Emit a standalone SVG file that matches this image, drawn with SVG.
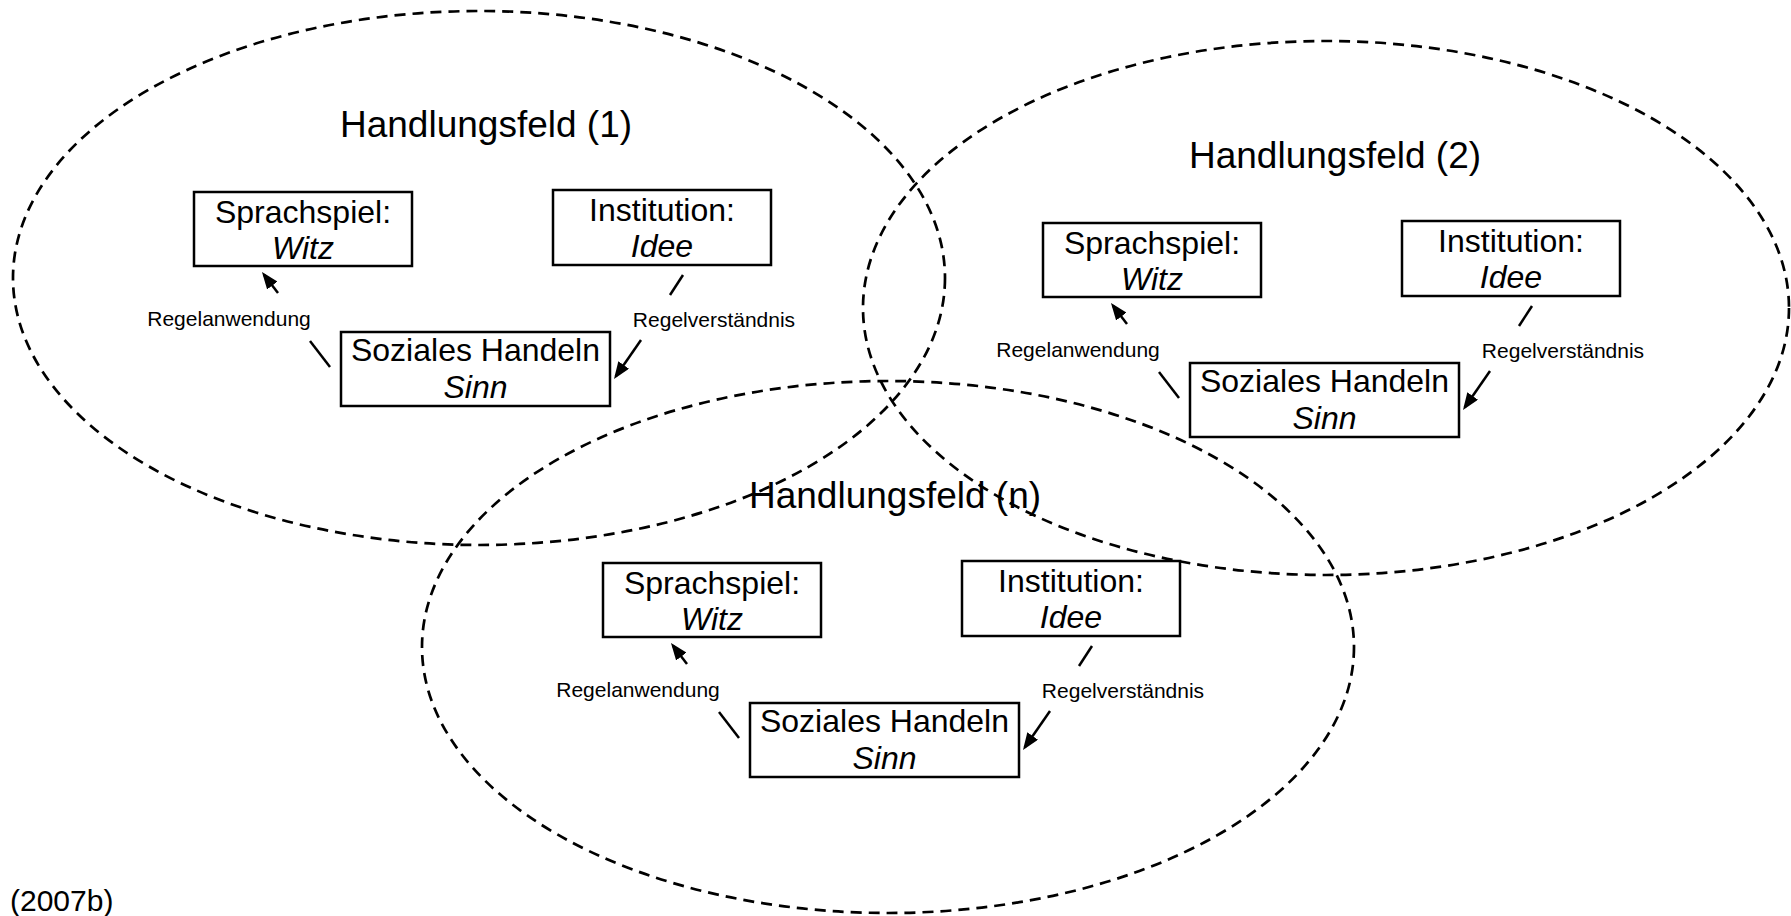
<svg xmlns="http://www.w3.org/2000/svg" width="1791" height="916" viewBox="0 0 1791 916">
  <defs>
    <style>
      .field { fill: none; stroke: #000; stroke-width: 2.7; stroke-dasharray: 11 7; }
      .box { fill: #fff; stroke: #000; stroke-width: 2.5; }
      .edge { fill: none; stroke: #000; stroke-width: 2.5; }
      .title { font-family: "Liberation Sans", Arial, Helvetica, sans-serif; font-size: 37px; fill: #000; text-anchor: middle; }
      .lbl { font-family: "Liberation Sans", Arial, Helvetica, sans-serif; font-size: 32px; fill: #000; text-anchor: middle; }
      .it { font-style: italic; }
      .small { font-family: "Liberation Sans", Arial, Helvetica, sans-serif; font-size: 21px; fill: #000; text-anchor: middle; }
      .note { font-family: "Liberation Sans", Arial, Helvetica, sans-serif; font-size: 30px; fill: #000; }
    </style>
    <marker id="head" markerUnits="userSpaceOnUse" markerWidth="17" markerHeight="13" viewBox="0 0 17 13" refX="14" refY="6.5" orient="auto">
      <path d="M0,0 L17,6.5 L0,13 z" fill="#000"/>
    </marker>
  </defs>

  <rect width="1791" height="916" fill="#fff"/>

  <!-- action fields (dashed ellipses) -->
  <g id="fields">
    <ellipse class="field" cx="479" cy="278" rx="466" ry="267"/>
    <ellipse class="field" cx="1326" cy="308" rx="463" ry="267"/>
    <ellipse class="field" cx="888" cy="647" rx="466" ry="266"/>
  </g>

  <!-- field 1 -->
  <g id="field-1">
    <text id="title-1" class="title" x="486" y="137">Handlungsfeld (1)</text>
    <g id="sprachspiel-1">
      <rect class="box" x="194" y="192" width="218" height="74"/>
      <text class="lbl" x="303" y="223">Sprachspiel:</text>
      <text class="lbl it" x="303" y="259">Witz</text>
    </g>
    <g id="institution-1">
      <rect class="box" x="553" y="190" width="218" height="75"/>
      <text class="lbl" x="662" y="221">Institution:</text>
      <text class="lbl it" x="662" y="257">Idee</text>
    </g>
    <g id="handeln-1">
      <rect class="box" x="341" y="332" width="269" height="74"/>
      <text class="lbl" x="475.5" y="361">Soziales Handeln</text>
      <text class="lbl it" x="475.5" y="398">Sinn</text>
    </g>
    <g id="connectors-1">
      <line class="edge" x1="278" y1="293" x2="263.8" y2="274.4" marker-end="url(#head)"/>
      <line class="edge" x1="310" y1="341" x2="330" y2="367"/>
      <line class="edge" x1="683" y1="275" x2="670" y2="295"/>
      <line class="edge" x1="641" y1="340" x2="615.7" y2="376.5" marker-end="url(#head)"/>
      <text class="small" x="229" y="326">Regelanwendung</text>
      <text class="small" x="714" y="327">Regelverständnis</text>
    </g>
  </g>

  <!-- field 2 -->
  <g id="field-2" transform="translate(849,31)">
    <text id="title-2" class="title" x="486" y="137">Handlungsfeld (2)</text>
    <g id="sprachspiel-2">
      <rect class="box" x="194" y="192" width="218" height="74"/>
      <text class="lbl" x="303" y="223">Sprachspiel:</text>
      <text class="lbl it" x="303" y="259">Witz</text>
    </g>
    <g id="institution-2">
      <rect class="box" x="553" y="190" width="218" height="75"/>
      <text class="lbl" x="662" y="221">Institution:</text>
      <text class="lbl it" x="662" y="257">Idee</text>
    </g>
    <g id="handeln-2">
      <rect class="box" x="341" y="332" width="269" height="74"/>
      <text class="lbl" x="475.5" y="361">Soziales Handeln</text>
      <text class="lbl it" x="475.5" y="398">Sinn</text>
    </g>
    <g id="connectors-2">
      <line class="edge" x1="278" y1="293" x2="263.8" y2="274.4" marker-end="url(#head)"/>
      <line class="edge" x1="310" y1="341" x2="330" y2="367"/>
      <line class="edge" x1="683" y1="275" x2="670" y2="295"/>
      <line class="edge" x1="641" y1="340" x2="615.7" y2="376.5" marker-end="url(#head)"/>
      <text class="small" x="229" y="326">Regelanwendung</text>
      <text class="small" x="714" y="327">Regelverständnis</text>
    </g>
  </g>

  <!-- field n -->
  <g id="field-n" transform="translate(409,371)">
    <text id="title-n" class="title" x="486" y="137">Handlungsfeld (n)</text>
    <g id="sprachspiel-n">
      <rect class="box" x="194" y="192" width="218" height="74"/>
      <text class="lbl" x="303" y="223">Sprachspiel:</text>
      <text class="lbl it" x="303" y="259">Witz</text>
    </g>
    <g id="institution-n">
      <rect class="box" x="553" y="190" width="218" height="75"/>
      <text class="lbl" x="662" y="221">Institution:</text>
      <text class="lbl it" x="662" y="257">Idee</text>
    </g>
    <g id="handeln-n">
      <rect class="box" x="341" y="332" width="269" height="74"/>
      <text class="lbl" x="475.5" y="361">Soziales Handeln</text>
      <text class="lbl it" x="475.5" y="398">Sinn</text>
    </g>
    <g id="connectors-n">
      <line class="edge" x1="278" y1="293" x2="263.8" y2="274.4" marker-end="url(#head)"/>
      <line class="edge" x1="310" y1="341" x2="330" y2="367"/>
      <line class="edge" x1="683" y1="275" x2="670" y2="295"/>
      <line class="edge" x1="641" y1="340" x2="615.7" y2="376.5" marker-end="url(#head)"/>
      <text class="small" x="229" y="326">Regelanwendung</text>
      <text class="small" x="714" y="327">Regelverständnis</text>
    </g>
  </g>

  <text id="source" class="note" x="10" y="911">(2007b)</text>
</svg>
